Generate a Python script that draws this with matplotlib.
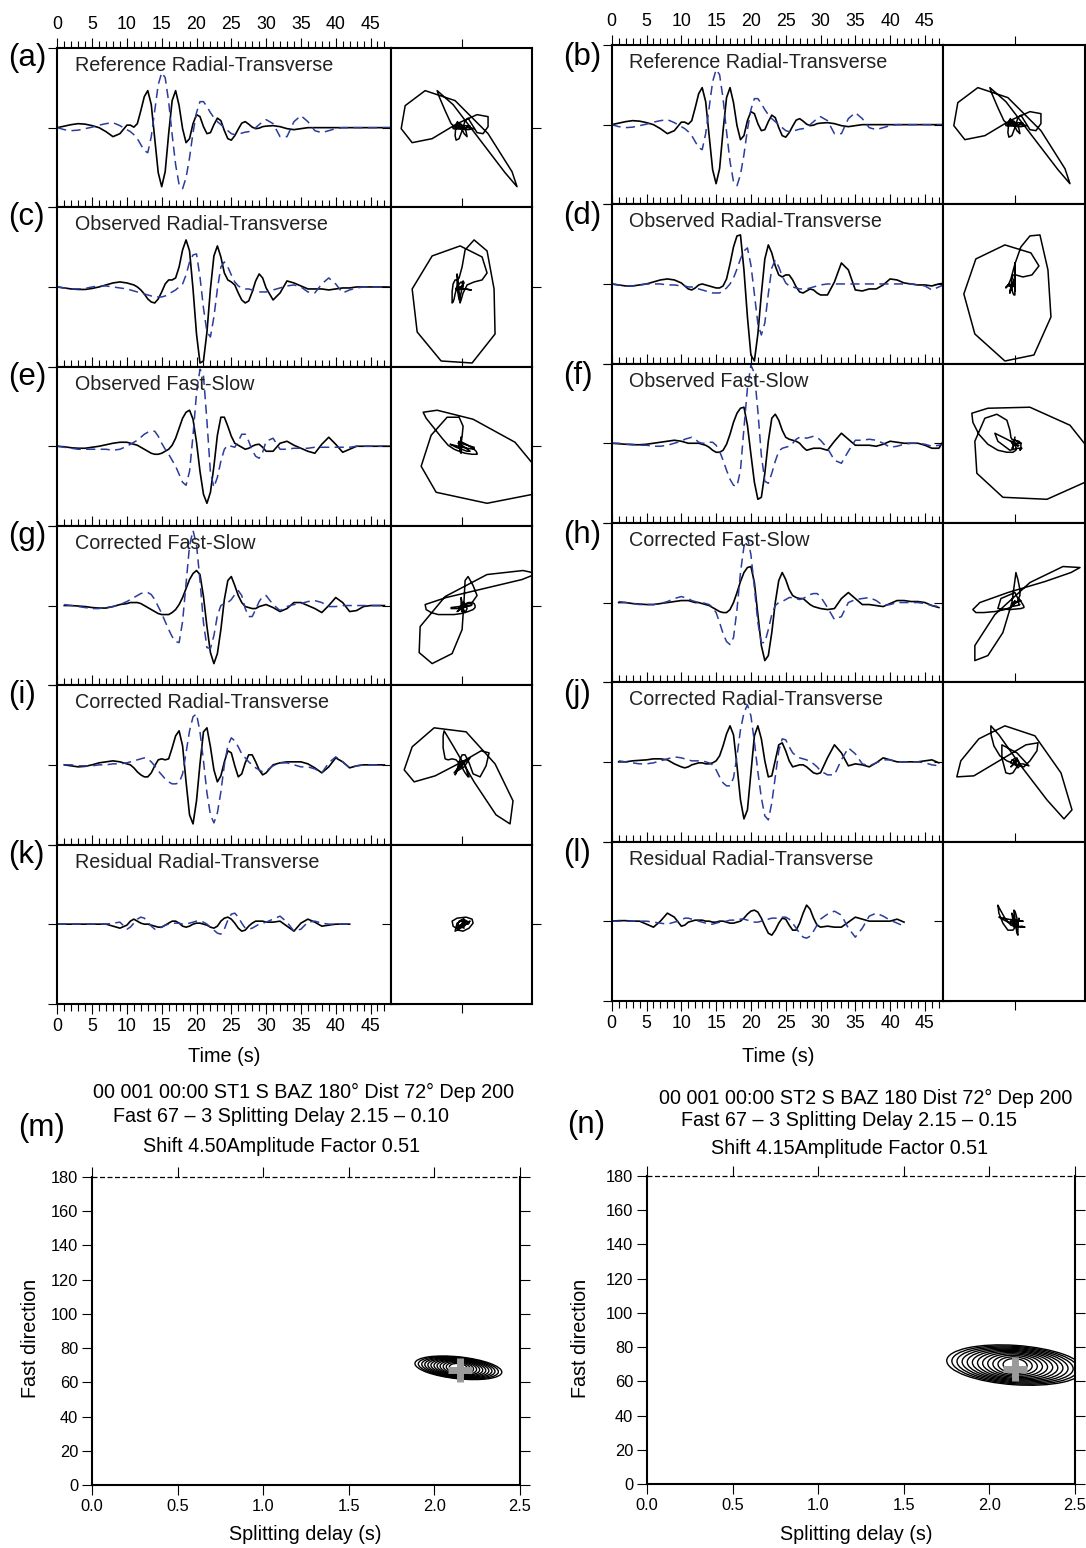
import numpy as np
import matplotlib
matplotlib.use('Agg')
import matplotlib.pyplot as plt
from matplotlib import transforms
from matplotlib.patches import Ellipse
from matplotlib.ticker import MultipleLocator, FormatStrFormatter

plt.rcParams['font.family'] = ['Liberation Sans', 'DejaVu Sans']

nan = np.nan

# =============================================================================
# waveform data (amplitudes, arbitrary units)
# time grid: 1 s steps to 9 s, 0.5 s steps 10-30 s, 1 s steps 31-48 s
# =============================================================================
t = np.r_[np.arange(0, 10, 1.0), np.arange(10, 30.25, 0.5), np.arange(31, 49, 1.0)]

# (a) / (b) reference radial (solid) and transverse (dashed)
a_solid = [0, 1.5, 3, 4, 3.5, 2, 0, -4, -9, -6,
           2.5, 2.5, 0.5, 4, 17, 31, 37, 23, -11, -45,
           -59, -44, -6, 27, 37, 22, -1, -15, -11, 4,
           13, 11, 1, -6, -5, 3, 9.5, 7, -3, -11,
           -12.5, -8, -1.5, 4.5, 6, 3.5, 0.5, -1, -0.5, 1,
           1.5,
           2, 1, -1, -2, -1, 0, 0, 0, 0, 0, 0, 0, 0, 0, 0, 0, 0, 0]
a_dash = [0, -2, -3, -2.5, -1, 0.5, 2.5, 4, 5, 2,
          -2, -4, -7, -11, -17, -23, -25, -9, 17, 43,
          55, 50, 26, -7, -37, -57, -61, -50, -30, -5,
          15, 26, 26, 21, 15, 10, 6, 3, 0, -3,
          -6, -7, -6.5, -5.5, -4.5, -4, -2.5, 0, 3, 6,
          8,
          4, -9, -9, 6, 12, 6, -3, -5, -3, -1, 0, 0, 0, 0, 0, 0, 0, 0]
b_solid = list(a_solid)
b_dash = list(a_dash)

# (c) observed radial-transverse, station 1
c_solid = [0, -1, -2, -2.5, -2.5, -1.5, 0, 2, 4, 5,
           4, 3, 2, 0, -3, -7, -12, -15, -16, -12,
           -5, 3, 7, 7, 9, 20, 37, 47, 36, -2,
           -47, -76, -74, -45, -2, 31, 41, 30, 14, 7,
           5, 2, -6, -13, -16, -14, -5, 6, 13, 9,
           -1,
           -13, -6, 6, 4, 1, -2, -2, -2, -3, -2, -1, -1, 0, 0, 0, 0, 0, 0]
c_dash = [0, -1, -2, -2, -1.5, 0, 1, 1, 0, -1,
          -2, -3, -4, -5, -6, -7, -8, -9, -10, -10,
          -10, -9, -7, -5, -3, 0, 3, 12, 25, 32,
          33, 10, -21, -45, -50, -30, -2, 20, 25, 20,
          12, 5, 1, -1, -2, -2, -3, -4, -5, -5,
          -5,
          -3, -1, 1, 2, 0, -5, -6, 3, 9, 3, -6, -3, -1, 0, 0, 0, 0, 0]

# (d) observed radial-transverse, station 2
d_solid = [0, -1, -2, -2, -1, 0, 2, 4, 5, 4,
           1, -2, -5, -6, -4, -1, 0, -1, -2, -3,
           -4, -4, -2, 5, 20, 37, 48, 49, 14, -33,
           -71, -77, -50, -10, 25, 39, 31, 18, 9, 7,
           9, 9, 4, -3, -8, -9, -7, -5, -6, -9,
           -11,
           -11, 2, 21, 14, -6, -7, -5, -5, -1, 5, 4, 1, 0, -1, -1, -2, 0, 1]
d_dash = [0, -1, -2, -2, -1, 0, 0, 0, -1, -1,
          -2, -2, -3, -3, -4, -5, -6, -7, -8, -9,
          -9, -9, -7, -4, 0, 6, 15, 25, 33, 36,
          19, -10, -40, -51, -39, -10, 16, 24, 17, 8,
          1, -2, -3, -4, -5, -5, -5, -4, -3, -2,
          -1,
          0, 0, 0, 0, 0, 0, 0, 0, 0, 0, 0, 0, 0, -1, -2, -6, -3, 0]

# (e) observed fast-slow, station 1
e_solid = [0, -0.5, -1.5, -2, -2, -1, 0, 1.5, 3, 4,
           4, 3, 2, 1, -1, -3, -5, -7, -8, -8,
           -7, -5, -3, 1, 8, 18, 28, 34, 36, 27,
           4, -25, -48, -57, -46, -20, 11, 29, 29, 20,
           10, 3, 1, -1, -3, -2, 0, 1.5, 2, -1,
           -5,
           -5, 3, 5, 1, -2, -5, -7, 2, 9, 2, -6, -3, 0, 0, 0, 0, 0, 0]
e_dash = [0, -1, -2, -3, -3, -3, -3, -3, -4, -3,
          0, 2, 4, 6, 9, 12, 14, 15, 15, 10,
          3, -3, -8, -14, -20, -28, -36, -39, -25, 11,
          53, 77, 71, 25, -26, -41, -31, -15, -3, 1,
          0, -1, 5, 12, 12, 5, -4, -10, -12, -6,
          5,
          8, -3, -3, -2, -2, -2, -1, -1, -1, -1, -1, -1, 0, 0, 0, 0, 0, 0]

# (f) observed fast-slow, station 2
f_solid = [0, -0.5, -1, -1.5, -1.5, -1, 0, 1, 2, 3,
           2, 1, 0, 0, 0, 0, -1, -2, -4, -7,
           -9, -9, -7, -1, 9, 21, 30, 35, 36, 18,
           -11, -39, -56, -54, -30, 2, 25, 29, 23, 13,
           6, 4, 3, 2, 0, -4, -7, -6, -5, -5,
           -5,
           -7, 2, 10, 4, -2, -2, -2, -3, -1, 2, 1, 0, 0, 0, -2, -5, -5, 6]
f_dash = [0, 0, -1, -1, -2, -2, -3, -3, -2, 0,
          2, 4, 5, 6, 4, 1, 0, 0, 1, 1,
          -2, -8, -17, -27, -36, -42, -43, -27, 15, 55,
          78, 70, 32, -12, -38, -40, -30, -18, -8, -5,
          -4, -3, 0, 4, 6, 6, 5, 6, 7, 6,
          3,
          -5, -17, -20, -8, 3, 3, 4, 3, 0, -4, -3, -1, 0, 0, -1, -3, -2, 0]

# (g) corrected fast-slow, station 1
g_solid = [nan, 0, 0, -0.5, -1, -2, -2.5, -2.5, -1, 1,
           2, 3, 3, 3, 2, 0, -2, -4, -6, -8,
           -9, -9, -9, -7, -4, 1, 8, 17, 26, 32,
           35, 31, 9, -21, -47, -58, -48, -24, 6, 25,
           29, 20, 10, 3, -1, -2, -3, -3, -1, 0,
           1,
           -2, -6, -3, 3, 3, 0, -3, -7, 0, 8, 3, -6, -5, -1, 0, 0, 0, nan]
g_dash = [nan, 1, 0, -1, -2, -3, -3, -2, -1, 1,
          4, 6, 8, 10, 12, 13, 13, 11, 6, -1,
          -8, -16, -24, -31, -36, -37, -16, 22, 60, 75,
          61, 25, -17, -42, -43, -30, -10, 0, 2, 3,
          6, 11, 15, 10, -3, -11, -11, -4, 4, 9,
          10,
          1, -5, -1, 1, 2, 4, 5, 3, -1, -1, 0, 0, 0, 0, 0, 0, 0, nan]

# (h) corrected fast-slow, station 2
h_solid = [nan, 0, 0, -1, -1.5, -2, -2, -1, 0, 1,
           2, 2, 2, 1, 0, 0, -1, -2, -3, -5,
           -7, -9, -10, -10, -7, 0, 10, 21, 30, 35,
           36, 20, -12, -43, -58, -53, -30, 0, 22, 30,
           23, 13, 7, 5, 4, 4, 1, -2, -4, -5,
           -6,
           -7, -6, 4, 10, 4, -2, -2, -3, -4, -1, 2, 2, 1, 1, 0, -3, -5, nan]
h_dash = [nan, 1, 0, -1, -2, -2, -2, -1, 1, 4,
          6, 5, 4, 2, 1, 0, 0, -1, -2, -5,
          -10, -20, -31, -39, -42, -35, -7, 30, 56, 65,
          48, 15, -20, -40, -40, -27, -12, -3, 0, 1,
          3, 5, 5, 4, 3, 4, 6, 8, 9, 9,
          6,
          -5, -17, -14, 0, 3, 4, 5, 2, -3, -2, 0, 0, 0, 0, -1, -3, -4, nan]

# (i) corrected radial-transverse, station 1
i_solid = [nan, 0, -1, -2, -1.5, 0, 2, 3, 4, 3,
           1, 0, -3, -7, -10, -12, -12, -8, -1, 5,
           6, 5, 6, 17, 29, 34, 19, -17, -50, -59,
           -36, 1, 33, 37, 18, -5, -17, -11, 3, 14,
           12, -1, -12, -9, 2, 10, 10, 3, -5, -10,
           -8,
           0, 2, 3, 3, 3, 1, -3, -8, -2, 7, 3, -3, -1, 0, 0, 0, 0, nan]
i_dash = [nan, 0, 0, -1, -1, -1, 0, 0, 1, 1,
          2, 3, 4, 5, 6, 7, 6, 3, -1, -6,
          -10, -14, -17, -19, -19, -18, -9, 12, 34, 48,
          51, 33, 4, -28, -50, -58, -48, -27, 0, 19,
          27, 24, 18, 11, 7, 3, 0, -3, -5, -7,
          -6,
          -1, 2, 2, 0, -2, -2, -4, -8, 2, 8, 3, -3, -1, 0, 0, 0, 0, nan]

# (j) corrected radial-transverse, station 2
j_solid = [nan, 0, 0, 1, 1.5, 2, 3, 3, 2, -2,
           -5, -6, -5, -3, -2, -1, -1, -2, -2, -1,
           1, 6, 16, 28, 36, 27, -4, -38, -57, -48,
           -11, 26, 36, 23, 1, -15, -14, 1.5, 17, 19,
           11, 1, -5, -4, -3, -3, -5, -8, -11, -12,
           -11,
           4, 17, 9, -4, -2, -3, -5, -1, 4, 2, 0, 0, 0, 0, 1, 2, -1, nan]
j_dash = [nan, 1, 0, -1, -2, -2, -1, 1, 3, 5,
          4, 3, 2, 1, 1, 1, 1, 0, -1, -3,
          -8, -15, -21, -24, -24, -16, 6, 32, 49, 57,
          46, 20, -10, -36, -54, -58, -41, -15, 11, 23,
          22, 15, 9, 6, 4, 3, 2, 0, -2, -5,
          -9,
          -13, -13, 2, 14, 8, -2, -4, -1, 2, 2, 0, 0, 0, 0, -1, -3, -4, nan]

# (k) residual radial-transverse, station 1
k_solid = [0, 0, 0, 0, 0, 0, 0, 0, -2, -4,
           -1, 3, 5, 3, 1, 0, 0, -1, -2, -3,
           -3, -1, 1, 3, 3, 1, -2, -3, -2, 0,
           1, 1, 0, -1, -3, -4, -2, 3, 6, 7,
           5, 1, -4, -7, -6, -2, 1, 3, 3, 3,
           2,
           2, 3, -2, -7, 1, 5, 2, -2, -1, 0, 0, 0, nan, nan, nan, nan, nan, nan]
k_dash = [0, 0, 0, 0, 0, 0, 0, 0, 1, 2,
          -5, -3, 1, 5, 7, 6, 2, -2, -5, -5,
          -3, -1, 0, 1, 1, 1, 0, 0, 1, 2,
          3, 3, 2, 0, -3, -6, -9, -10, -5, 4,
          10, 11, 7, 1, -4, -5, -4, -2, 0, 1,
          2,
          5, 8, 2, -7, -5, 2, 3, 1, 0, 0, 0, 0, nan, nan, nan, nan, nan, nan]

# (l) residual radial-transverse, station 2
l_solid = [0, 0.5, 0.5, 0, 0, -3, -6, 0, 8, 4,
           -5, -4, -1, 0, 1, 1, 1, 0, 0, -1,
           -1, 0, 0, -1, -2, -2, -1, 0, 3, 7,
           10, 11, 9, 3, -5, -12, -14, -9, -2, 3,
           2, -4, -9, -9, -2, 8, 16, 12, 3, -4,
           -6,
           -5, -6, -6, -1, 4, 2, 0, 0, 0, 0, 2, -1, nan, nan, nan, nan, nan, nan]
l_dash = [0, 0, 0, 0, 0, 0, -1, -2, -3, -1,
          1, 3, 3, 2, 1, 0, -1, -2, -3, -3,
          -2, -1, 0, 0, 1, 1, 2, 2, 2, 1,
          0, -1, -1, 0, 1, 2, 3, 3, 3, 4,
          4, 2, -2, -7, -12, -16, -17, -15, -10, -4,
          2,
          7, 10, 6, -7, -16, -7, 5, 8, 5, 1, -2, -5, nan, nan, nan, nan, nan, nan]

titles = ['Reference Radial-Transverse', 'Observed Radial-Transverse',
          'Observed Fast-Slow', 'Corrected Fast-Slow',
          'Corrected Radial-Transverse', 'Residual Radial-Transverse']
letters = [['(a)', '(c)', '(e)', '(g)', '(i)', '(k)'],
           ['(b)', '(d)', '(f)', '(h)', '(j)', '(l)']]
traces = [[(a_solid, a_dash), (c_solid, c_dash), (e_solid, e_dash),
           (g_solid, g_dash), (i_solid, i_dash), (k_solid, k_dash)],
          [(b_solid, b_dash), (d_solid, d_dash), (f_solid, f_dash),
           (h_solid, h_dash), (j_solid, j_dash), (l_solid, l_dash)]]

# grid search results (splitting delay vs fast direction)
best_delay = 2.15
best_fast = 67
m_center = (2.14, 68.5)
m_halfw = [0.255, 0.235, 0.215, 0.197, 0.179, 0.161, 0.143, 0.125, 0.107, 0.089, 0.071, 0.053]
m_halfh = [6.4, 6.1, 5.8, 5.5, 5.2, 4.9, 4.6, 4.3, 4.0, 3.6, 3.1, 2.5]
n_center = (2.15, 69.5)
n_halfw = [0.40, 0.37, 0.34, 0.31, 0.28, 0.25, 0.22, 0.19, 0.16, 0.13, 0.10, 0.07]
n_halfh = [11.5, 10.9, 10.3, 9.7, 9.1, 8.5, 7.9, 7.2, 6.5, 5.7, 4.8, 3.8]

m_title = ['00 001 00:00 ST1 S BAZ 180\u00b0 Dist 72\u00b0 Dep 200',
           'Fast 67 \u2013 3 Splitting Delay 2.15 \u2013 0.10',
           'Shift 4.50Amplitude Factor 0.51']
n_title = ['00 001 00:00 ST2 S BAZ 180 Dist 72\u00b0 Dep 200',
           'Fast 67 \u2013 3 Splitting Delay 2.15 \u2013 0.15',
           'Shift 4.15Amplitude Factor 0.51']

# =============================================================================
# layout (pixel geometry of the original page)
# =============================================================================
W, H = 1086, 1548
BLUE = '#2b3c9b'
TXT = '#222222'


def rect(x0, y0, x1, y1):
    return [x0 / W, 1 - y1 / H, (x1 - x0) / W, (y1 - y0) / H]


cols = [dict(wx0=57.3, wx1=390.7, px1=532, top=48, xmax=47.9, lx=8, ly=10),
        dict(wx0=611.7, wx1=943.3, px1=1085, top=45, xmax=47.64, lx=563, ly=12)]
row_h = 159.3
YL = 79.6

fig = plt.figure(figsize=(W / 100, H / 100), dpi=100)

for row in range(6):
    for c in range(2):
        g = cols[c]
        solid, dash = traces[c][row]
        y0 = g['top'] + row * row_h
        y1 = y0 + row_h
        last = row == 5

        # waveform panel
        ax = fig.add_axes(rect(g['wx0'], y0, g['wx1'], y1))
        ax.plot(t, solid, color='k', lw=1.2, solid_joinstyle='round')
        ax.plot(t, dash, color=BLUE, lw=1.1, dashes=(6, 3.5), dash_joinstyle='round')
        ax.set_xlim(0, g['xmax'])
        ax.set_ylim(-YL, YL)
        ax.xaxis.set_major_locator(MultipleLocator(5))
        ax.xaxis.set_minor_locator(MultipleLocator(1))
        ax.tick_params(axis='x', which='both', direction='out', top=True,
                       bottom=last, labeltop=(row == 0), labelbottom=last,
                       width=0.8, labelsize=12.8, pad=3)
        ax.tick_params(axis='x', which='major', length=7.5)
        ax.tick_params(axis='x', which='minor', length=4.8)
        ax.set_yticks([-YL, 0, YL])
        ax.tick_params(axis='y', direction='out', left=True, right=True,
                       labelleft=False, length=6.5, width=0.8)
        for s in ax.spines.values():
            s.set_linewidth(1.5)
        ax.text(2.55, YL - 17.5, titles[row], fontsize=14.2, color=TXT,
                ha='left', va='center')
        fig.text(g['lx'] / W, 1 - (y0 + g['ly']) / H, letters[c][row],
                 fontsize=22.5, ha='left', va='center', color='k')

        # particle motion panel (transverse vs radial)
        pm = fig.add_axes(rect(g['wx1'], y0, g['px1'], y1))
        pm.plot(dash, solid, color='k', lw=1.1, solid_joinstyle='round')
        pm.set_xlim(-71.5, 70)
        pm.set_ylim(-YL, YL)
        pm.set_xticks([0])
        pm.set_yticks([0])
        pm.tick_params(axis='x', direction='out', top=True, bottom=last,
                       labeltop=False, labelbottom=False, length=6.5, width=0.8)
        pm.tick_params(axis='y', direction='out', left=True, right=True,
                       labelleft=False, length=6.5, width=0.8)
        for s in pm.spines.values():
            s.set_linewidth(1.5)

fig.text(224 / W, 1 - 1057 / H, 'Time (s)', fontsize=14.3, ha='center', va='center')
fig.text(778 / W, 1 - 1056 / H, 'Time (s)', fontsize=14.3, ha='center', va='center')

# =============================================================================
# splitting parameter grid panels
# =============================================================================
grid_panels = [
    dict(box=(92, 1177, 520, 1485), center=m_center, hw=m_halfw, hh=m_halfh,
         tilt=-6, title=m_title, tx=[93, 113, 143], ty=[1092, 1116, 1147],
         letter='(m)', lpos=(18, 1128), ylab_x=30, xlab_x=305),
    dict(box=(647, 1176, 1075, 1484), center=n_center, hw=n_halfw, hh=n_halfh,
         tilt=-4, title=n_title, tx=[659, 681, 711], ty=[1098, 1121, 1148],
         letter='(n)', lpos=(567, 1125), ylab_x=580, xlab_x=856),
]

for gp in grid_panels:
    x0, y0, x1, y1 = gp['box']
    ax = fig.add_axes(rect(x0, y0, x1, y1))
    sx = (x1 - x0) / 2.5
    sy = (y1 - y0) / 180.0
    for hw, hh in zip(gp['hw'], gp['hh']):
        e = Ellipse((0, 0), 2 * hw * sx, 2 * hh * sy, angle=gp['tilt'],
                    fill=False, edgecolor='k', lw=1.0,
                    transform=transforms.ScaledTranslation(gp['center'][0], gp['center'][1],
                                                           ax.transData))
        ax.add_patch(e)
    ax.plot(best_delay, best_fast, marker='+', color='#9a9a9a', ms=17, mew=5)
    ax.set_xlim(0, 2.5)
    ax.set_ylim(0, 180)
    ax.xaxis.set_major_locator(MultipleLocator(0.5))
    ax.xaxis.set_major_formatter(FormatStrFormatter('%.1f'))
    ax.yaxis.set_major_locator(MultipleLocator(20))
    ax.tick_params(direction='out', top=True, right=True, length=7, width=0.8,
                   labelsize=11.8, pad=3)
    ax.spines['top'].set_visible(False)
    for k in ['left', 'right', 'bottom']:
        ax.spines[k].set_linewidth(1.5)
    ax.axhline(180, color='k', lw=0.9, dashes=(4, 2), clip_on=False)
    for txt, tx, ty in zip(gp['title'], gp['tx'], gp['ty']):
        fig.text(tx / W, 1 - ty / H, txt, fontsize=14.2, ha='left', va='center')
    fig.text(gp['lpos'][0] / W, 1 - gp['lpos'][1] / H, gp['letter'], fontsize=22.5,
             ha='left', va='center')
    fig.text(gp['ylab_x'] / W, 1 - 1338 / H, 'Fast direction', fontsize=14.2,
             rotation=90, ha='center', va='center')
    fig.text(gp['xlab_x'] / W, 1 - 1535 / H, 'Splitting delay (s)', fontsize=14.2,
             ha='center', va='center')

fig.savefig('out.png', dpi=100)
